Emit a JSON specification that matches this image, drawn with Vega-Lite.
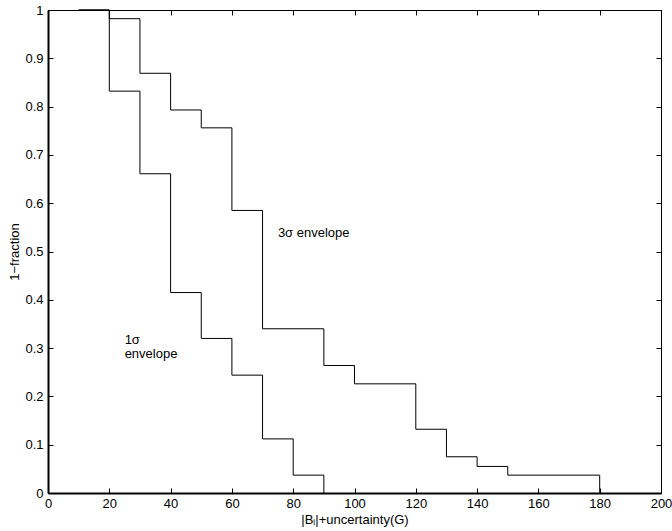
{
  "$schema": "https://vega.github.io/schema/vega-lite/v6.json",
  "width": 613,
  "height": 483,
  "autosize": {"type": "none"},
  "padding": {"left": 48, "top": 10, "right": 11, "bottom": 38},
  "background": "white",
  "config": {
    "font": "Liberation Sans",
    "view": {"stroke": "black", "strokeWidth": 1},
    "axis": {"grid": false, "domainColor": "black", "tickColor": "black", "labelColor": "black", "titleColor": "black", "labelFont": "Liberation Sans", "titleFont": "Liberation Sans", "labelFontSize": 13, "titleFontSize": 13, "titleFontWeight": "normal"}
  },
  "datasets": {
    "curves": [
      {"x": 10, "y": 1, "series": "1sigma"},
      {"x": 20, "y": 0.832, "series": "1sigma"},
      {"x": 30, "y": 0.661, "series": "1sigma"},
      {"x": 40, "y": 0.415, "series": "1sigma"},
      {"x": 50, "y": 0.32, "series": "1sigma"},
      {"x": 60, "y": 0.244, "series": "1sigma"},
      {"x": 70, "y": 0.112, "series": "1sigma"},
      {"x": 80, "y": 0.037, "series": "1sigma"},
      {"x": 90, "y": 0, "series": "1sigma"},
      {"x": 10, "y": 1, "series": "3sigma"},
      {"x": 20, "y": 0.982, "series": "3sigma"},
      {"x": 30, "y": 0.869, "series": "3sigma"},
      {"x": 40, "y": 0.793, "series": "3sigma"},
      {"x": 50, "y": 0.756, "series": "3sigma"},
      {"x": 60, "y": 0.585, "series": "3sigma"},
      {"x": 70, "y": 0.34, "series": "3sigma"},
      {"x": 90, "y": 0.264, "series": "3sigma"},
      {"x": 100, "y": 0.226, "series": "3sigma"},
      {"x": 120, "y": 0.132, "series": "3sigma"},
      {"x": 130, "y": 0.075, "series": "3sigma"},
      {"x": 140, "y": 0.055, "series": "3sigma"},
      {"x": 150, "y": 0.037, "series": "3sigma"},
      {"x": 180, "y": 0, "series": "3sigma"}
    ],
    "labels": [
      {"x": 75, "y": 0.538, "text": ["3σ envelope"]},
      {"x": 25, "y": 0.317, "text": ["1σ", "envelope"]}
    ]
  },
  "layer": [
    {
      "data": {"name": "curves"},
      "mark": {"type": "line", "interpolate": "step-after", "color": "black", "strokeWidth": 1},
      "encoding": {
        "x": {"field": "x", "type": "quantitative", "scale": {"domain": [0, 200], "nice": false},
              "axis": {"orient": "bottom", "title": "|Bₗ|+uncertainty(G)", "values": [0,20,40,60,80,100,120,140,160,180,200], "format": "d", "tickSize": -5, "labelPadding": 9, "domainWidth": 2, "titlePadding": 3, "labelFlush": false}},
        "y": {"field": "y", "type": "quantitative", "scale": {"domain": [0, 1], "nice": false},
              "axis": {"orient": "left", "title": "1−fraction", "values": [0,0.1,0.2,0.3,0.4,0.5,0.6,0.7,0.8,0.9,1], "format": "~g", "tickSize": -5, "labelPadding": 10, "domainWidth": 2, "titlePadding": 3, "labelFlush": false}},
        "detail": {"field": "series"}
      }
    },
    {
      "data": {"name": "curves"},
      "mark": {"type": "line", "interpolate": "step-after", "color": "black", "strokeWidth": 1, "opacity": 0},
      "encoding": {
        "x": {"field": "x", "type": "quantitative",
              "axis": {"orient": "top", "title": null, "labels": false, "values": [0,20,40,60,80,100,120,140,160,180,200], "tickSize": -5, "domainWidth": 1}},
        "y": {"field": "y", "type": "quantitative",
              "axis": {"orient": "right", "title": null, "labels": false, "values": [0,0.1,0.2,0.3,0.4,0.5,0.6,0.7,0.8,0.9,1], "tickSize": -5, "domainWidth": 1}},
        "detail": {"field": "series"}
      }
    },
    {
      "data": {"name": "labels"},
      "mark": {"type": "text", "align": "left", "baseline": "middle", "fontSize": 13, "font": "Liberation Sans", "color": "black", "lineHeight": 14},
      "encoding": {
        "x": {"field": "x", "type": "quantitative", "axis": null},
        "y": {"field": "y", "type": "quantitative", "axis": null},
        "text": {"field": "text"}
      }
    }
  ],
  "resolve": {"axis": {"x": "independent", "y": "independent"}}
}
